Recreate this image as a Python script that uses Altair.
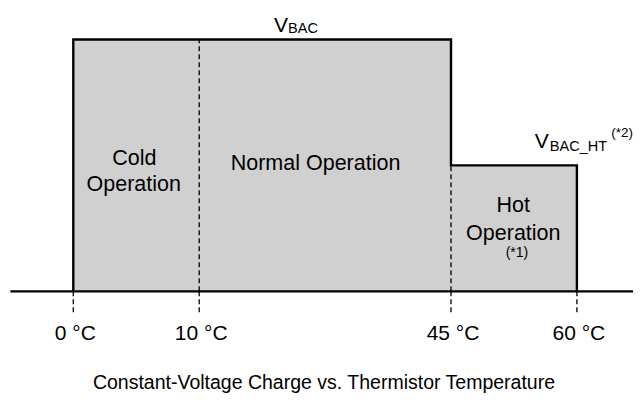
import altair as alt
import pandas as pd

# ---- data (schematic positions) ----
temp_pos = [0, 1, 3, 4]
temp_labels = ["0 °C", "10 °C", "45 °C", "60 °C"]

step_pos = [0, 3, 4]          # start of each voltage level
step_level = [2, 1, 1]        # V_BAC = 2, V_BAC_HT = 1 (relative)

divider_pos = [1, 3]          # dashed region boundaries inside the area
divider_top = [2, 1]

region_text = ["Cold", "Operation", "Normal Operation", "Hot", "Operation", "(*1)"]
region_x = [0.485, 0.48, 1.924, 3.495, 3.495, 3.524]
region_y = [1.003, 0.80, 0.963, 0.632, 0.407, 0.272]
region_size = [21.5, 21.5, 21.5, 21.5, 21.5, 14]

volt_text = ["V", "BAC", "V", "BAC_HT", "(*2)"]
volt_x = [1.594, 1.706, 3.665, 3.785, 4.272]
volt_y = [2.062, 2.049, 1.136, 1.114, 1.226]
volt_size = [21, 14.5, 21, 14.5, 13.5]

title_text = "Constant-Voltage Charge vs. Thermistor Temperature"

FONT = "Arial, 'Liberation Sans', sans-serif"
W, H = 625, 385
UNIT = 125.9
x0 = -65.3 / UNIT
y_top = (291.3 - 8) / UNIT
xs = alt.Scale(domain=[x0, x0 + W / UNIT], nice=False, zero=False)
ys = alt.Scale(domain=[y_top - H / UNIT, y_top], nice=False, zero=False)


def X(f):
    return alt.X(f, type="quantitative", scale=xs, axis=None)


def Y(f):
    return alt.Y(f, type="quantitative", scale=ys, axis=None)


area_df = pd.DataFrame({"x": step_pos, "y": step_level})
outline = [(step_pos[0], 0)]
for i in range(len(step_pos) - 1):
    outline.append((step_pos[i], step_level[i]))
    outline.append((step_pos[i + 1], step_level[i]))
outline.append((step_pos[-1], 0))
outline_df = pd.DataFrame({"x": [p[0] for p in outline], "y": [p[1] for p in outline],
                           "o": list(range(len(outline)))})
div_df = pd.DataFrame({"x": divider_pos, "y": [0] * len(divider_pos), "y2": divider_top})
tick_df = pd.DataFrame({"x": temp_pos, "y": [0] * len(temp_pos),
                        "y2": [-0.17] * len(temp_pos), "label": temp_labels,
                        "ly": [-0.387] * len(temp_pos)})
axis_df = pd.DataFrame({"x": [-0.5], "x2": [4.5], "y": [0]})
region_df = pd.DataFrame({"x": region_x, "y": region_y, "t": region_text, "s": region_size})
volt_df = pd.DataFrame({"x": volt_x, "y": volt_y, "t": volt_text, "s": volt_size})
title_df = pd.DataFrame({"x": [1.991], "y": [-0.774], "t": [title_text]})

area = alt.Chart(area_df).mark_area(interpolate="step-after", color="#d0d0d0").encode(
    x=X("x"), y=Y("y"))
dividers = alt.Chart(div_df).mark_rule(color="#000", strokeWidth=1.3, strokeDash=[5, 3]).encode(
    x=X("x"), y=Y("y"), y2="y2")
ticks = alt.Chart(tick_df).mark_rule(color="#000", strokeWidth=1.3, strokeDash=[5, 3]).encode(
    x=X("x"), y=Y("y"), y2="y2")
outline_line = alt.Chart(outline_df).mark_line(color="#000", strokeWidth=2.4, strokeJoin="miter").encode(
    x=X("x"), y=Y("y"), order="o:Q")
axis_line = alt.Chart(axis_df).mark_rule(color="#000", strokeWidth=2.2).encode(
    x=X("x"), x2="x2", y=Y("y"))
tick_labels = alt.Chart(tick_df).mark_text(font=FONT, fontSize=21, color="#000", baseline="alphabetic",
                                           align="center", dx=2).encode(
    x=X("x"), y=Y("ly"), text="label:N")
regions = alt.Chart(region_df).mark_text(font=FONT, color="#000", baseline="alphabetic",
                                         align="center").encode(
    x=X("x"), y=Y("y"), text="t:N", size=alt.Size("s:Q", scale=None, legend=None))
volts = alt.Chart(volt_df).mark_text(font=FONT, color="#000", baseline="alphabetic",
                                     align="left").encode(
    x=X("x"), y=Y("y"), text="t:N", size=alt.Size("s:Q", scale=None, legend=None))
title = alt.Chart(title_df).mark_text(font=FONT, fontSize=19.5, color="#000", baseline="alphabetic",
                                      align="center").encode(
    x=X("x"), y=Y("y"), text="t:N")

chart = alt.layer(area, dividers, ticks, outline_line, axis_line, tick_labels, regions, volts, title).properties(
    width=W, height=H,
    autosize=alt.AutoSizeParams(type="none"),
    padding=0,
    background="white",
).configure_view(stroke=None)

chart.save("out.html", embed_options={"renderer": "svg", "actions": False})
